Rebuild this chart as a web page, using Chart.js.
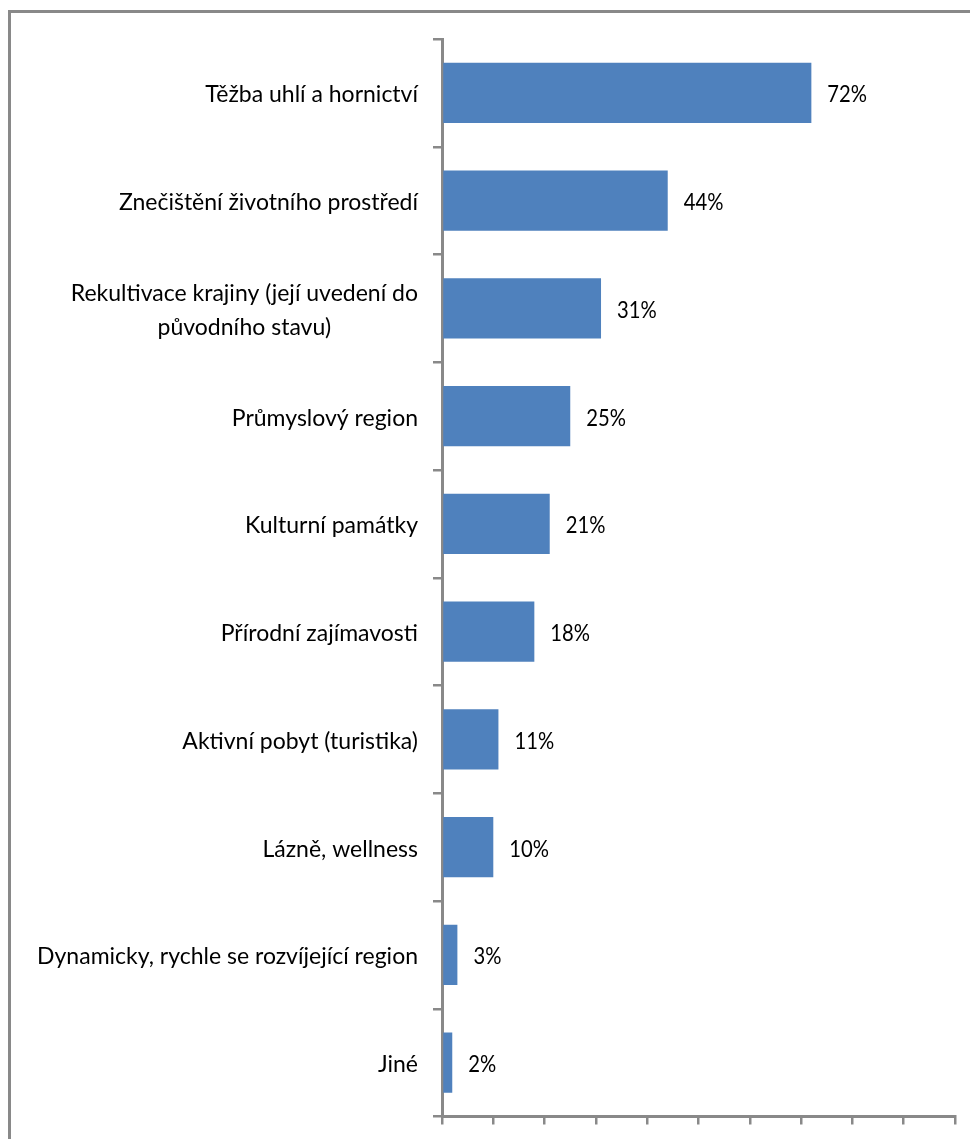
<!DOCTYPE html>
<html>
<head>
<meta charset="utf-8">
<script src="https://cdn.jsdelivr.net/npm/chart.js@4"></script>
<style>
    body { margin: 0; overflow: hidden; background: #fff; }
    .frame { position: absolute; left: 8px; top: 10px; width: 1000px; height: 1200px; border: 3px solid #898989; }
    .chartBox { position: absolute; left: 0; top: 0; width: 970px; height: 1139px; }
</style>
</head>
<body>
<div class="frame"></div>
<div class="chartBox"><canvas id="myChart"></canvas></div>
<script>
// categories, top to bottom
const categories = [
    'Těžba uhlí a hornictví',
    'Znečištění životního prostředí',
    ['Rekultivace krajiny (její uvedení do', 'původního stavu)'],
    'Průmyslový region',
    'Kulturní památky',
    'Přírodní zajímavosti',
    'Aktivní pobyt (turistika)',
    'Lázně, wellness',
    'Dynamicky, rychle se rozvíjející region',
    'Jiné'
];
// share of answers in %
const shares = [72, 44, 31, 25, 21, 18, 11, 10, 3, 2];
// x axis: 0..100 %, tick every 10
const axisMin = 0;
const axisMax = 100;
const axisStep = 10;

const barColor = '#4F81BD';
const axisColor = '#898989';
const fontSize = 23;
const fontFamily = 'Lato';
const valueStretch = 0.88;   // digits a bit narrower
const lineHeight = 34;

// draws the category names (multi-line ones centred) and the % values after each bar
const textPlugin = {
    id: 'barTexts',
    afterDatasetsDraw(chart) {
        const ctx = chart.ctx;
        const yScale = chart.scales.y;
        const meta = chart.getDatasetMeta(0);
        ctx.save();
        ctx.font = `${fontSize}px ${fontFamily}`;
        ctx.fillStyle = '#000';
        ctx.textBaseline = 'middle';
        ctx.textAlign = 'center';

        categories.forEach((cat, i) => {
            const lines = Array.isArray(cat) ? cat : [cat];
            const y = yScale.getPixelForTick(i) + 2;
            const right = yScale.right - 24;
            const blockWidth = Math.max(...lines.map(l => ctx.measureText(l).width));
            lines.forEach((line, j) => {
                const ly = y + (j - (lines.length - 1) / 2) * lineHeight;
                ctx.fillText(line, right - blockWidth / 2, ly);
            });
        });

        ctx.textAlign = 'left';
        meta.data.forEach((bar, i) => {
            ctx.save();
            ctx.translate(bar.x + 16, bar.y + 2);
            ctx.scale(valueStretch, 1);
            ctx.fillText(shares[i] + '%', 0, 0);
            ctx.restore();
        });
        ctx.restore();
    }
};

const ctx = document.getElementById('myChart').getContext('2d');
window.myChart = new Chart(ctx, {
    type: 'bar',
    data: {
        labels: categories,
        datasets: [{
            data: shares,
            backgroundColor: barColor,
            borderWidth: 0,
            categoryPercentage: 1,
            barPercentage: 0.557
        }]
    },
    options: {
        indexAxis: 'y',
        responsive: true,
        maintainAspectRatio: false,
        animation: false,
        layout: {
            padding: { top: 39, right: 15, left: 0, bottom: 0 }
        },
        plugins: {
            legend: { display: false },
            tooltip: { enabled: false }
        },
        scales: {
            x: {
                min: axisMin,
                max: axisMax,
                ticks: { stepSize: axisStep, display: false },
                grid: { drawOnChartArea: false, tickLength: 8, color: axisColor, lineWidth: 2.5 },
                border: { color: axisColor, width: 3 },
                afterFit(scale) { scale.height = 22.5; }
            },
            y: {
                ticks: { display: false },
                grid: { offset: true, drawOnChartArea: false, tickLength: 9, color: axisColor, lineWidth: 2.5 },
                border: { color: axisColor, width: 3 },
                afterFit(scale) { scale.width = 442; }
            }
        }
    },
    plugins: [textPlugin]
});
</script>
</body>
</html>
